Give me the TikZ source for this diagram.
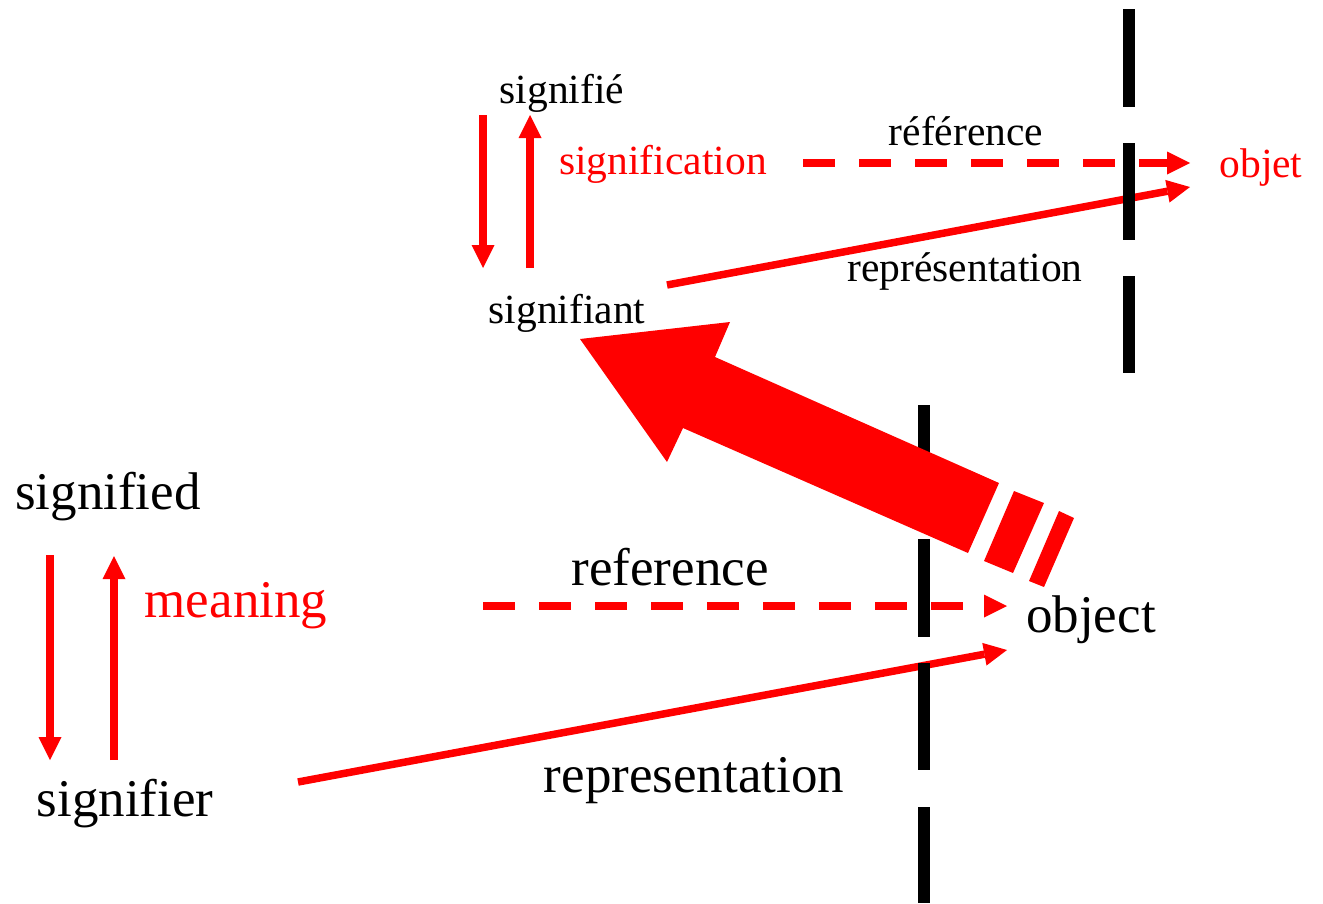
\documentclass[tikz,border=0pt]{standalone}
\usepackage{fontspec}
\setmainfont{Liberation Serif}
\usetikzlibrary{arrows.meta}
\definecolor{rd}{RGB}{255,0,0}
\begin{document}
\begin{tikzpicture}[x=1pt,y=-1pt,
  bigtext/.style={font=\fontsize{53}{60}\selectfont},
  smalltext/.style={font=\fontsize{41.5}{48}\selectfont},
  lbl/.style={inner sep=0pt, anchor=base},
  redarrow/.style={draw=rd, line width=7.5pt, -{Triangle[length=23pt,width=23pt,line width=0pt]}},
  dashedarrow/.style={redarrow, dash pattern=on 32pt off 24pt},
  barrier/.style={draw=black, line width=12pt},
  bigred/.style={fill=rd, draw=none}
]
\useasboundingbox (0,0) rectangle (1323,903);

% ---- top (French) ----
\node[lbl,smalltext] (signifie) at (562,103) {signifié};
\node[lbl,smalltext,text=rd] (signification) at (663,174) {signification};
\node[lbl,smalltext] (signifiant) at (567,323) {signifiant};
\node[lbl,smalltext] (referenceFR) at (966,145) {référence};
\node[lbl,smalltext] (representationFR) at (965,281) {représentation};
\node[lbl,smalltext,text=rd] (objet) at (1261,177) {objet};

% ---- bottom (English) ----
\node[lbl,bigtext] (signified) at (108,509) {signified};
\node[lbl,bigtext,text=rd] (meaning) at (236,617) {meaning};
\node[lbl,bigtext] (signifier) at (125,816) {signifier};
\node[lbl,bigtext] (reference) at (670,585) {reference};
\node[lbl,bigtext] (representation) at (694,792) {representation};
\node[lbl,bigtext] (object) at (1091,632) {object};

% arrow end points
\coordinate (tdS) at (483,115); \coordinate (tdE) at (483,268);
\coordinate (tuS) at (530,268); \coordinate (tuE) at (530,115);
\coordinate (trS) at (803,163); \coordinate (trE) at (1190,163);
\coordinate (tpS) at (667,285); \coordinate (tpE) at (1190,187);
\coordinate (bdS) at (50,555);  \coordinate (bdE) at (50,760);
\coordinate (buS) at (114,760); \coordinate (buE) at (114,556);
\coordinate (brS) at (483,606); \coordinate (brE) at (1007,606);
\coordinate (bpS) at (298,782); \coordinate (bpE) at (1007,650);

\draw[redarrow] (tdS) -- (tdE);
\draw[redarrow] (tuS) -- (tuE);
\draw[dashedarrow] (trS) -- (trE);
\draw[redarrow] (tpS) -- (tpE);
\draw[redarrow] (bdS) -- (bdE);
\draw[redarrow] (buS) -- (buE);
\draw[dashedarrow] (brS) -- (brE);
\draw[redarrow] (bpS) -- (bpE);

% barriers
\draw[barrier] (1128.5,9) -- (1128.5,107);
\draw[barrier] (1128.5,143) -- (1128.5,240);
\draw[barrier] (1128.5,276) -- (1128.5,373);
\draw[barrier] (923.5,405) -- (923.5,505);
\draw[barrier] (923.5,539) -- (923.5,637);
\draw[barrier] (923.5,663) -- (923.5,770);
\draw[barrier] (923.5,807) -- (923.5,903);

% big arrow
\fill[bigred] (580,339) -- (730,322) -- (715,357) -- (999,483) -- (968,553)
  -- (683,428) -- (667,462) -- cycle;
\fill[bigred] (1014,491) -- (1044,503) -- (1013,573) -- (984,561) -- cycle;
\fill[bigred] (1059,511) -- (1074,518) -- (1044,587) -- (1029,581) -- cycle;
\end{tikzpicture}
\end{document}
